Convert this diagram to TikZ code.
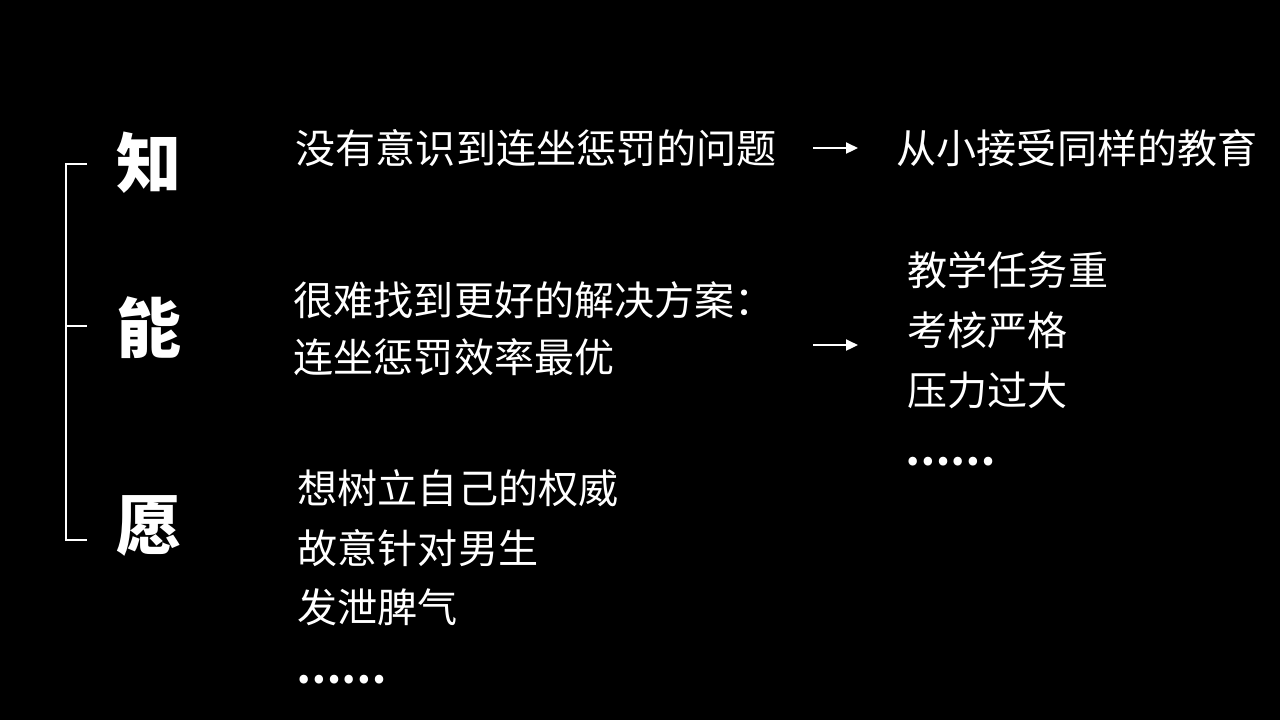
\documentclass[tikz,border=0pt]{standalone}
\usepackage{fontspec}
\setmainfont{Noto Sans CJK SC}
\newfontfamily\cjk{Noto Sans CJK SC}
\usetikzlibrary{arrows.meta}
\begin{document}
\begin{tikzpicture}[x=0.01cm,y=-0.01cm,
  txt/.style={inner sep=0pt,anchor=west,text=white,font=\cjk\fontsize{11.4pt}{13pt}\selectfont},
  dots/.style={txt,font=\cjk\bfseries\fontsize{11.4pt}{13pt}\selectfont},
  big/.style={inner sep=0pt,text=white,font=\cjk\bfseries\fontsize{18.5pt}{20pt}\selectfont},
  brk/.style={draw=white,line width=0.6pt},
  arr/.style={draw=white,line width=0.6pt,-{Triangle[length=0.12cm,width=0.11cm]}}]
\fill[black] (0,0) rectangle (1280,720);
\useasboundingbox (0,0) rectangle (1280,720);
% bracket
\coordinate (bt) at (87,164);
\coordinate (btc) at (66,164);
\coordinate (bm) at (87,326);
\coordinate (bmc) at (66,326);
\coordinate (bb) at (87,540);
\coordinate (bbc) at (66,540);
\draw[brk] (bt) -- (btc) -- (bbc) -- (bb);
\draw[brk] (bmc) -- (bm);
% big characters
\node[big] (zhi) at (149,163) {知};
\node[big] (neng) at (149,328) {能};
\node[big] (yuan) at (149,526) {愿};
% row 1
\node[txt] (q1) at (295,148) {没有意识到连坐惩罚的问题};
\node[txt] (r1) at (896,148) {从小接受同样的教育};
\coordinate (a1s) at (813,148);
\coordinate (a1e) at (858,148);
\draw[arr] (a1s) -- (a1e);
% row 2
\node[txt] (q2a) at (293,300) {很难找到更好的解决方案：};
\node[txt] (q2b) at (293,357) {连坐惩罚效率最优};
\coordinate (a2s) at (813,345);
\coordinate (a2e) at (858,345);
\draw[arr] (a2s) -- (a2e);
\node[txt] (r2a) at (907,270) {教学任务重};
\node[txt] (r2b) at (907,330) {考核严格};
\node[txt] (r2c) at (907,390) {压力过大};
\node[dots] (r2d) at (905,462) {……};
% row 3
\node[txt] (q3a) at (297,488) {想树立自己的权威};
\node[txt] (q3b) at (297,548) {故意针对男生};
\node[txt] (q3c) at (297,607) {发泄脾气};
\node[dots] (q3d) at (296,680) {……};
\end{tikzpicture}
\end{document}
